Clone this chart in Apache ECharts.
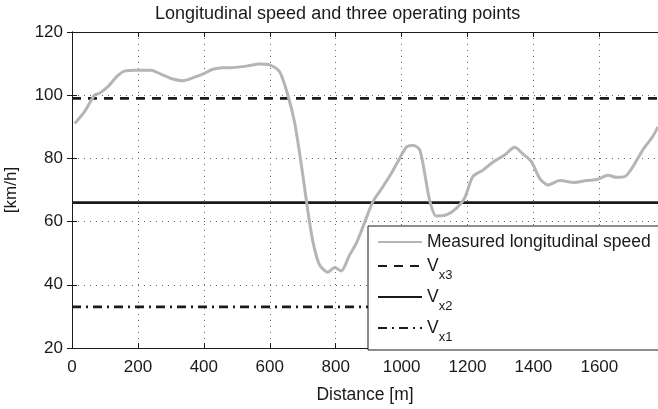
<!DOCTYPE html>
<html>
<head>
<meta charset="utf-8">
<script src="https://cdn.jsdelivr.net/npm/echarts@6/dist/echarts.min.js"></script>
<style>
  html, body { margin: 0; padding: 0; background: #fff; }
  #chart { width: 658px; height: 409px; }
</style>
</head>
<body>
<div id="chart"></div>
<script>
// Measured longitudinal speed along the route
const distance = [8, 38, 68, 83, 109, 139, 159, 195, 240, 271, 301, 336, 372, 402, 427, 458, 478, 529, 569, 599,
  630, 655, 675, 690, 706, 716, 731, 751, 776, 797, 817, 842, 862, 883, 913, 943, 969, 994, 1014, 1034,
  1055, 1070, 1085, 1105, 1136, 1166, 1191, 1216, 1247, 1277, 1313, 1343, 1368, 1394, 1419, 1444, 1480, 1525, 1561, 1596,
  1626, 1652, 1677, 1702, 1732, 1763, 1778];
const speed = [91, 94.8, 100, 100.6, 102.7, 106.2, 107.6, 107.9, 107.9, 106.6, 105.3, 104.6, 105.7, 106.9, 108.2, 108.7, 108.7, 109.2, 109.9, 109.6,
  107.4, 100, 91.6, 82.1, 70.5, 63.1, 53.6, 46.3, 44, 45.5, 44.4, 49.4, 53, 58.4, 66.3, 71, 75.3, 80, 83.5, 84.2,
  82.7, 75.3, 66.8, 61.8, 62.1, 64.2, 67.4, 74.2, 76.3, 78.8, 81.1, 83.5, 81.4, 79, 73.7, 71.6, 73, 72.4, 73, 73.4,
  74.7, 74, 74.2, 77.4, 82.7, 87.1, 90];

// Operating points [km/h]
const vx3 = 99;
const vx2 = 66;
const vx1 = 33;

const xMin = 0, xMax = 1778, xStep = 200;
const yMin = 20, yMax = 120, yStep = 20;

const titleText = 'Longitudinal speed and three operating points';
const xName = 'Distance [m]';
const yName = '[km/h]';
const seriesNames = ['Measured longitudinal speed', 'Vx3', 'Vx2', 'Vx1'];
const subLabels = { Vx3: 'x3', Vx2: 'x2', Vx1: 'x1' };

const font = "'Liberation Sans', Arial, sans-serif";
const ink = '#1a1a1a';

const measured = distance.map((d, i) => [d, speed[i]]);
const flat = v => [[xMin, v], [xMax, v]];

const chart = echarts.init(document.getElementById('chart'), null, { renderer: 'canvas' });

const tickCommon = { show: true, inside: true, length: 5, lineStyle: { color: ink, width: 1 } };
const gridLine = { show: true, lineStyle: { color: '#666', width: 1, type: [1, 5] } };
const plain = v => String(v);

chart.setOption({
  animation: false,
  backgroundColor: '#fff',
  title: {
    text: titleText,
    left: 150, top: 0,
    textStyle: { fontFamily: font, fontSize: 18, fontWeight: 'normal', color: ink }
  },
  grid: { left: 72, top: 32, right: 0, bottom: 61, show: false, containLabel: false, outerBoundsMode: 'none' },
  legend: {
    orient: 'vertical',
    left: 368, top: 226,
    padding: [7, 320, 6, 9],
    itemGap: 6,
    itemWidth: 44, itemHeight: 14,
    backgroundColor: '#fff',
    borderColor: ink, borderWidth: 1,
    itemStyle: { opacity: 0 },
    data: seriesNames,
    formatter: name => subLabels[name] ? '{v|V}{s|' + subLabels[name] + '}' : name,
    textStyle: {
      fontFamily: font, fontSize: 17.5, color: ink,
      rich: {
        v: { fontFamily: font, fontSize: 17.5, color: ink },
        s: { fontFamily: font, fontSize: 13, color: ink, padding: [19, 0, 0, 0] }
      }
    }
  },
  xAxis: [{
    type: 'value', min: xMin, max: xMax, interval: xStep,
    name: xName, nameLocation: 'middle', nameGap: 38,
    nameTextStyle: { fontFamily: font, fontSize: 17.5, color: ink },
    axisLine: { show: true, lineStyle: { color: ink, width: 1 } },
    axisTick: tickCommon,
    axisLabel: { fontFamily: font, fontSize: 17, color: ink, margin: 11, showMaxLabel: false, formatter: plain },
    splitLine: gridLine
  }, {
    type: 'value', position: 'top', min: xMin, max: xMax, interval: xStep,
    axisLine: { show: true, lineStyle: { color: ink, width: 1 } },
    axisTick: tickCommon,
    axisLabel: { show: false },
    splitLine: { show: false }
  }],
  yAxis: [{
    type: 'value', min: yMin, max: yMax, interval: yStep,
    name: yName, nameLocation: 'middle', nameGap: 52, nameRotate: 90,
    nameTextStyle: { fontFamily: font, fontSize: 17, color: ink },
    axisLine: { show: true, lineStyle: { color: ink, width: 1 } },
    axisTick: tickCommon,
    axisLabel: { fontFamily: font, fontSize: 17, color: ink, margin: 9, formatter: plain },
    splitLine: gridLine
  }, {
    type: 'value', position: 'right', min: yMin, max: yMax, interval: yStep,
    axisLine: { show: true, lineStyle: { color: ink, width: 1 } },
    axisTick: tickCommon,
    axisLabel: { show: false },
    splitLine: { show: false }
  }],
  series: [{
    name: seriesNames[0], type: 'line', data: measured,
    showSymbol: false, symbol: 'none', smooth: 0.25,
    lineStyle: { color: '#b5b5b5', width: 3 }, itemStyle: { color: '#b5b5b5' }, z: 3
  }, {
    name: seriesNames[1], type: 'line', data: flat(vx3), symbol: 'none',
    lineStyle: { color: ink, width: 2.6, type: [9, 7] }, itemStyle: { color: ink }, z: 2
  }, {
    name: seriesNames[2], type: 'line', data: flat(vx2), symbol: 'none',
    lineStyle: { color: ink, width: 2.6, type: 'solid' }, itemStyle: { color: ink }, z: 2
  }, {
    name: seriesNames[3], type: 'line', data: flat(vx1), symbol: 'none',
    lineStyle: { color: ink, width: 2.6, type: [9, 5, 2, 5] }, itemStyle: { color: ink }, z: 2
  }]
});
</script>
</body>
</html>
